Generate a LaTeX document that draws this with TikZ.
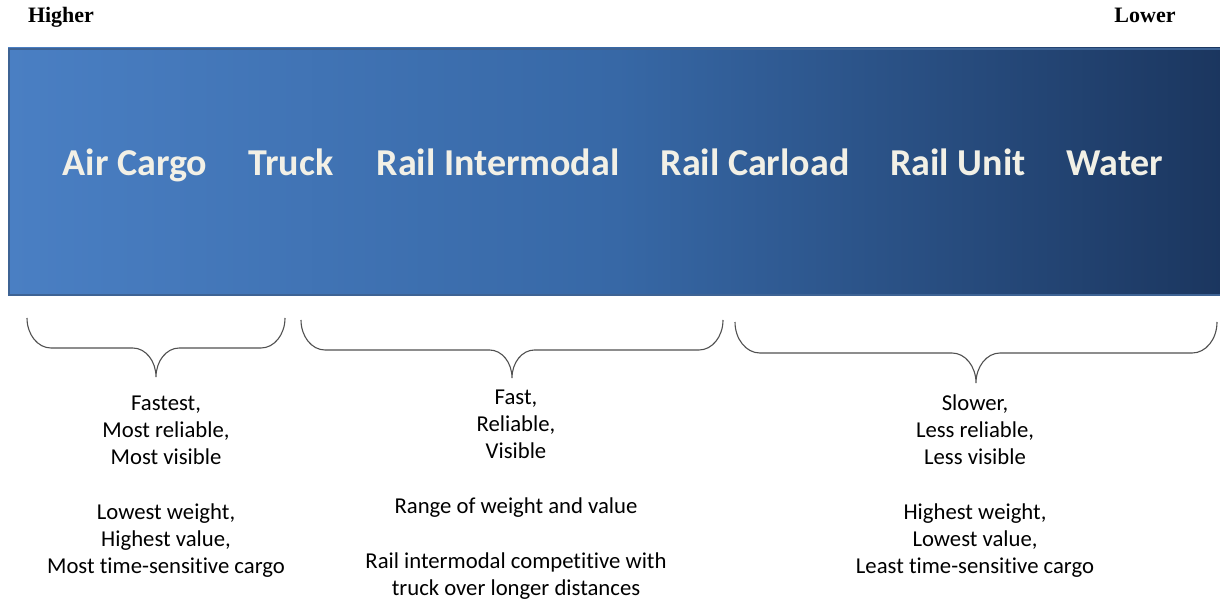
\documentclass[tikz,border=0pt]{standalone}
\usepackage{fontspec}
\setmainfont{Carlito}[Ligatures=NoCommon]
\newfontfamily\endfont{Liberation Serif}

\definecolor{barleft}{HTML}{4A7FC3}
\definecolor{barmid}{HTML}{3768A6}
\definecolor{barright}{HTML}{1B365F}
\definecolor{barrim}{HTML}{3E6394}
\definecolor{barlabel}{HTML}{F2F0E6}
\definecolor{bracecol}{HTML}{505050}

% curly bracket: left x, right x, top y, bar y, tip y
\newcommand{\spanbrace}[5]{%
  \pgfmathsetmacro{\bmid}{(#1+#2)/2}
  \pgfmathsetmacro{\bry}{#4-#3}
  \pgfmathsetmacro{\brx}{0.8*\bry}
  \pgfmathsetmacro{\bdip}{#5-#4}
  \pgfmathsetmacro{\bw}{0.8*\bdip}
  \draw[bracket] (#1,#3)
    .. controls (#1,#3+0.552*\bry) and (#1+0.448*\brx,#4) .. (#1+\brx,#4)
    -- (\bmid-\bw,#4)
    .. controls (\bmid-0.448*\bw,#4) and (\bmid,#5-0.552*\bdip) .. (\bmid,#5)
    .. controls (\bmid,#5-0.552*\bdip) and (\bmid+0.448*\bw,#4) .. (\bmid+\bw,#4)
    -- (#2-\brx,#4)
    .. controls (#2-0.448*\brx,#4) and (#2,#3+0.552*\bry) .. (#2,#3);
}

\begin{document}
\begin{tikzpicture}[x=1pt,y=-1pt,
  mode/.style={text=barlabel, font=\fontsize{38}{44}\selectfont\bfseries, anchor=base, inner sep=0pt},
  note/.style={align=center, font=\fontsize{22.7}{27}\selectfont, anchor=base, inner sep=0pt},
  rank/.style={font=\endfont\fontsize{22}{26}\selectfont\bfseries, anchor=base, inner sep=0pt},
  bracket/.style={draw=bracecol, line width=1.1pt}
]
\useasboundingbox (0,0) rectangle (1220,601);

% shaded bar
\shade[left color=barleft, right color=barright, middle color=barmid] (8,48) rectangle (1222,296);
\draw[barrim, line width=2pt] (1222,49) -- (9,49) -- (9,295) -- (1222,295);

\node[rank] (higher) at (61,23) {Higher};
\node[rank] (lower) at (1145,23) {Lower};

% transport modes
\node[mode] (air) at (135,176) {Air Cargo};
\node[mode] (truck) at (291,176) {Truck};
\node[mode] (intermodal) at (498,176) {Rail Intermodal};
\node[mode] (carload) at (755,176) {Rail Carload};
\node[mode] (unit) at (958,176) {Rail Unit};
\node[mode] (water) at (1115,176) {Water};

% brackets
\spanbrace{27}{285}{318}{348}{377}
\spanbrace{301}{723}{320}{350}{378}
\spanbrace{735}{1217}{322}{353}{383}

% notes under each group (placed by their last line)
\node[note] (fastnote) at (166,573) {Fastest,\\Most reliable,\\Most visible\\[28pt]
  Lowest weight,\\Highest value,\\Most time-sensitive cargo};
\node[note] (midnote) at (516,595) {Fast,\\Reliable,\\Visible\\[28pt]
  Range of weight and value\\[28pt]
  Rail intermodal competitive with\\truck over longer distances};
\node[note] (slownote) at (975,573) {Slower,\\Less reliable,\\Less visible\\[28pt]
  Highest weight,\\Lowest value,\\Least time-sensitive cargo};
\end{tikzpicture}
\end{document}
